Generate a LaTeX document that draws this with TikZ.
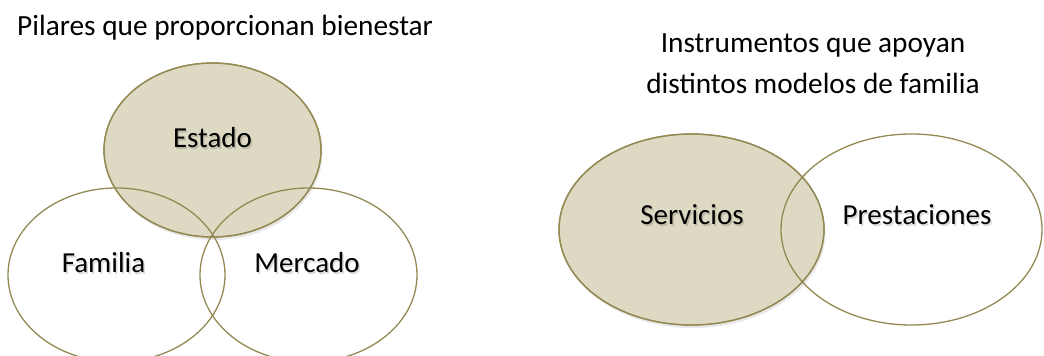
\documentclass[tikz,border=0pt]{standalone}
\usepackage{fontspec}
\setmainfont{Carlito}
\usetikzlibrary{shadows}
\definecolor{olivestroke}{HTML}{938953}
\definecolor{tanfill}{HTML}{DDD9C3}
\begin{document}
\begin{tikzpicture}[x=1pt,y=-1pt,
  ring/.style={draw=olivestroke,line width=1.3pt},
  filledring/.style={ring,fill=tanfill,drop shadow={opacity=0.18,shadow xshift=1.5pt,shadow yshift=-3pt}},
  title/.style={font=\fontsize{29.3}{41}\selectfont,align=center,inner sep=0pt},
  lbl/.style={font=\fontsize{29}{34}\selectfont,inner sep=0pt},
  lblshadow/.style={lbl,text=black,opacity=0.15}]
\useasboundingbox (0,0) rectangle (1044,356);
% left diagram
\path[filledring] (212.5,150) ellipse [x radius=108.5, y radius=87];
\coordinate (estado) at (212.5,150);
\coordinate (familia) at (116.5,275);
\coordinate (mercado) at (308.5,275);
\draw[ring] (familia) ellipse [x radius=108.5, y radius=87];
\draw[ring] (mercado) ellipse [x radius=108.5, y radius=87];
\draw[ring] (estado) ellipse [x radius=108.5, y radius=87];
\node[title,anchor=base west] (t1) at (17,35) {Pilares que proporcionan bienestar};
\node[lblshadow] at (214,139.5) {Estado};
\node[lbl] (le) at (212.5,137.5) {Estado};
\node[lblshadow] at (105,264.5) {Familia};
\node[lbl] (lf) at (103.5,262.5) {Familia};
\node[lblshadow] at (308.5,264.5) {Mercado};
\node[lbl] (lm) at (307,262.5) {Mercado};
% right diagram
\coordinate (serv) at (691.5,229.5);
\coordinate (prest) at (911.5,229.5);
\path[filledring] (serv) ellipse [x radius=132.5, y radius=95.5];
\draw[ring] (serv) ellipse [x radius=132.5, y radius=95.5];
\draw[ring] (prest) ellipse [x radius=130.5, y radius=95.5];
\node[title,anchor=base] (t2) at (813,52) {Instrumentos que apoyan};
\node[title,anchor=base] (t3) at (813,93) {distintos modelos de familia};
\node[lblshadow] at (693.5,217) {Servicios};
\node[lbl] (ls) at (692,215) {Servicios};
\node[lblshadow] at (918.5,217) {Prestaciones};
\node[lbl] (lp) at (917,215) {Prestaciones};
\end{tikzpicture}
\end{document}
